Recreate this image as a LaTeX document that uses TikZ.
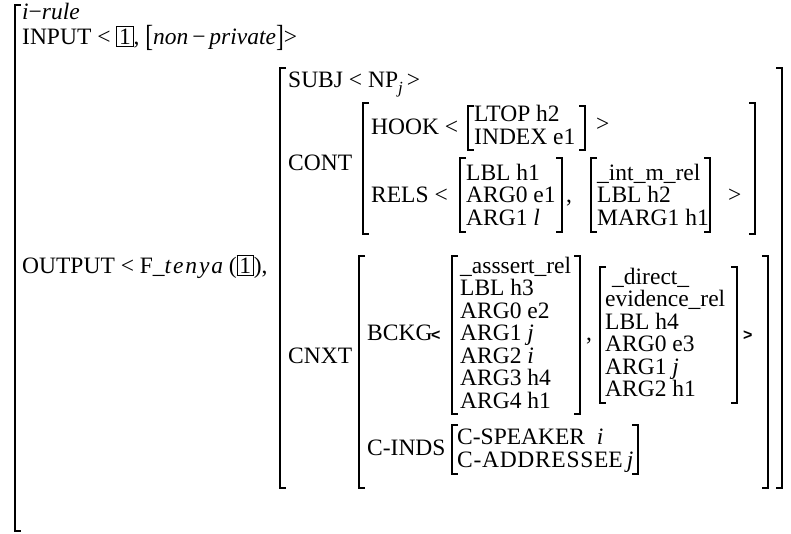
\documentclass[tikz,border=0pt]{standalone}
\usepackage{fontspec}
\setmainfont{Liberation Serif}
\newfontfamily\sansfnt{Liberation Sans}
\newcommand\bx[1]{{\setlength\fboxsep{2pt}\setlength\fboxrule{0.7pt}\fbox{#1}}}
\newcommand\tallbr[1]{\raisebox{-2.5pt}{\scalebox{1}[1.3]{#1}}}
\newcommand\sgt[1]{{\sansfnt\bfseries\fontsize{16}{16}\selectfont #1}}
\newcommand\avmL[3]{\draw[br] (#1+6,#2) -- (#1,#2) -- (#1,#3) -- (#1+6,#3);}
\newcommand\avmR[3]{\draw[br] (#1-6,#2) -- (#1,#2) -- (#1,#3) -- (#1-6,#3);}
\begin{document}
\begin{tikzpicture}[x=1pt,y=-1pt,
  t/.style={anchor=base west, inner sep=0pt, font=\fontsize{23.5}{26}\selectfont},
  br/.style={line width=1.3pt}]
\useasboundingbox (0,0) rectangle (791,533);
% brackets
\avmL{15}{5}{531}
\avmL{280}{68}{488} \avmR{782}{68}{488}
\avmL{363}{103}{234} \avmR{755}{103}{234}
\avmL{468}{106}{150} \avmR{585}{106}{150}
\avmL{460}{158}{232} \avmR{562}{158}{232}
\avmL{591}{158}{232} \avmR{710}{158}{232}
\avmL{359}{256}{488} \avmR{768}{256}{488}
\avmL{452}{256}{414} \avmR{580}{256}{414}
\avmL{600}{267}{403} \avmR{737}{267}{403}
\avmL{452}{425}{474} \avmR{638}{425}{474}
% top rows
\node[t] (irule) at (22,19) {\textit{i}−\textit{rule}};
\node[t] (input) at (22,44) {INPUT < \bx{1}, \tallbr{[}\textit{non}\,−\,\textit{private}\tallbr{]}>};
\node[t] (subj) at (288,87) {SUBJ < NP\raisebox{-6pt}{\fontsize{17}{17}\selectfont\textit{j}}\,>};
\node[t] (hook) at (371,134) {HOOK <};
\node[t] (ltop) at (474,121) {LTOP h2};
\node[t] (index) at (474,144) {INDEX e1};
\node[t] (hookgt) at (596,131) {>};
\node[t] (cont) at (288,170) {CONT};
\node[t] (rels) at (371,202) {RELS <};
\node[t] (lblh1) at (466,180) {LBL h1};
\node[t] (arg0e1) at (466,202) {ARG0 e1};
\node[t] (arg1l) at (466,225) {ARG1 \textit{l}};
\node[t] (relscomma) at (566,202) {,};
\node[t] (intm) at (597,180) {\_int\_m\_rel};
\node[t] (lblh2) at (597,202) {LBL h2};
\node[t] (marg1) at (597,225) {MARG1 h1};
\node[t] (relsgt) at (728,202) {>};
% output
\node[t] (output) at (22,273) {OUTPUT < F\_{\addfontfeature{LetterSpace=8}\textit{tenya}}\,(\bx{1}),};
\node[t] (cnxt) at (288,363) {CNXT};
\node[t] (bckg) at (367,340.5) {BCKG};
\node[t] (bckglt) at (431,340.5) {\sgt{<}};
\node[t] (asr) at (460,273) {\_asssert\_rel};
\node[t] (lblh3) at (460,295.5) {LBL h3};
\node[t] (arg0e2) at (460,318) {ARG0 e2};
\node[t] (arg1j) at (460,340.5) {ARG1 \textit{j}};
\node[t] (arg2i) at (460,363) {ARG2 \textit{i}};
\node[t] (arg3h4) at (460,385.5) {ARG3 h4};
\node[t] (arg4h1) at (460,408) {ARG4 h1};
\node[t] (bckgcomma) at (586,340.5) {,};
\node[t] (direct) at (612,284.25) {\_direct\_};
\node[t] (evid) at (605,306.75) {evidence\_rel};
\node[t] (lblh4) at (605,329.25) {LBL h4};
\node[t] (arg0e3) at (605,351.75) {ARG0 e3};
\node[t] (arg1j2) at (605,374.25) {ARG1 \textit{j}};
\node[t] (arg2h1) at (605,396.75) {ARG2 h1};
\node[t] (bckggt) at (743,340.5) {\sgt{>}};
\node[t] (cinds) at (367,455) {C-INDS};
\node[t] (cspk) at (457,444.5) {C-SPEAKER\ \ \textit{i}};
\node[t] (cadd) at (457,467.5) {{\addfontfeature{LetterSpace=3}C-ADDRESSE}E\,\textit{j}};
\end{tikzpicture}
\end{document}
